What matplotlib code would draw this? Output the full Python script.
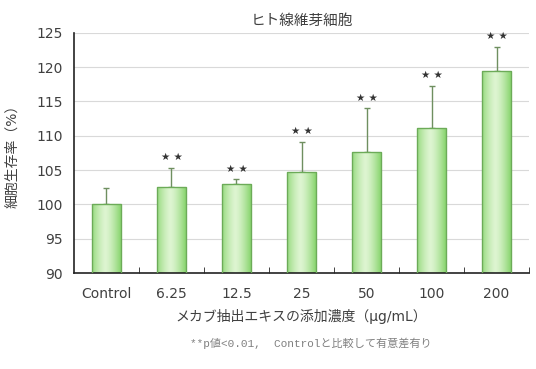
import matplotlib.pyplot as plt
import numpy as np

plt.rcParams['font.family'] = ['DejaVu Sans', 'Noto Sans CJK JP']

categories = ["Control", "6.25", "12.5", "25", "50", "100", "200"]
values = [100.0, 102.6, 103.0, 104.7, 107.7, 111.2, 119.5]
errors = [2.35, 2.75, 0.7, 4.45, 6.3, 6.1, 3.5]
marks = ["", "★★", "★★", "★★", "★★", "★★", "★★"]

fig = plt.figure(figsize=(5.36, 3.69), dpi=100)
ax = fig.add_axes([0.138, 0.26, 0.849, 0.651])

x = np.arange(len(categories))
w = 0.45
txt = "#404040"

# horizontal gradient for the bars: darker edges, light centre
t = np.linspace(-1, 1, 64)
shade = 1 - np.abs(t + 0.1) ** 1.4
shade = np.clip(shade, 0, 1)
c_edge = np.array([0.55, 0.84, 0.45])
c_mid = np.array([0.87, 0.96, 0.82])
grad = c_edge[None, :] + (c_mid - c_edge)[None, :] * shade[:, None]
grad = grad[None, :, :]

bars = ax.bar(x, values, width=w, bottom=0, color="none",
              edgecolor="#6cab58", linewidth=1.0, zorder=3)
for b in bars:
    x0, y0 = b.get_x(), 90
    im = ax.imshow(grad, extent=[x0, x0 + b.get_width(), y0, b.get_height()],
                   aspect="auto", zorder=2, interpolation="bilinear")
    im.set_clip_path(b)

ax.errorbar(x, values, yerr=[np.zeros(len(x)), errors], fmt="none",
            ecolor="#6f8f60", elinewidth=1.0, capsize=2, capthick=1.0, zorder=1)

for i in range(len(x)):
    if marks[i]:
        ax.text(x[i], values[i] + errors[i] + 0.8, " ".join(marks[i]),
                ha="center", va="bottom", fontsize=7.5, color="#333333")

ax.set_xlim(-0.5, len(x) - 0.5)
ax.set_ylim(90, 125)
ax.set_yticks(np.arange(90, 126, 5))
ax.grid(axis="y", color="#d9d9d9", linewidth=0.8, zorder=0)
ax.set_axisbelow(True)
ax.tick_params(axis="y", length=0, labelsize=10, labelcolor=txt, pad=8)
ax.set_xticks(x)
ax.set_xticklabels(categories)
ax.tick_params(axis="x", length=0, labelsize=10, labelcolor=txt, pad=10)
ax.set_xticks(np.arange(0.5, len(x), 1), minor=True)
ax.tick_params(axis="x", which="minor", direction="in", length=4, color="#222222")

for s in ["top", "right"]:
    ax.spines[s].set_visible(False)
ax.spines["left"].set_color("#222222")
ax.spines["bottom"].set_color("#222222")
ax.spines["left"].set_linewidth(1.2)
ax.spines["bottom"].set_linewidth(1.2)

ax.set_ylabel("細胞生存率（%）", fontsize=10, color=txt, labelpad=12)
ax.set_xlabel("メカブ抽出エキスの添加濃度（μg/mL）", fontsize=10, color=txt, labelpad=6)
ax.set_title("ヒト線維芽細胞", fontsize=10.5, color=txt, pad=6)

fig.text(0.58, 0.06, "**p値<0.01,  Controlと比較して有意差有り", ha="center",
         fontsize=8, color="#808080", family=['Liberation Mono', 'Noto Sans CJK JP'])

fig.savefig("out.png", dpi=100)
